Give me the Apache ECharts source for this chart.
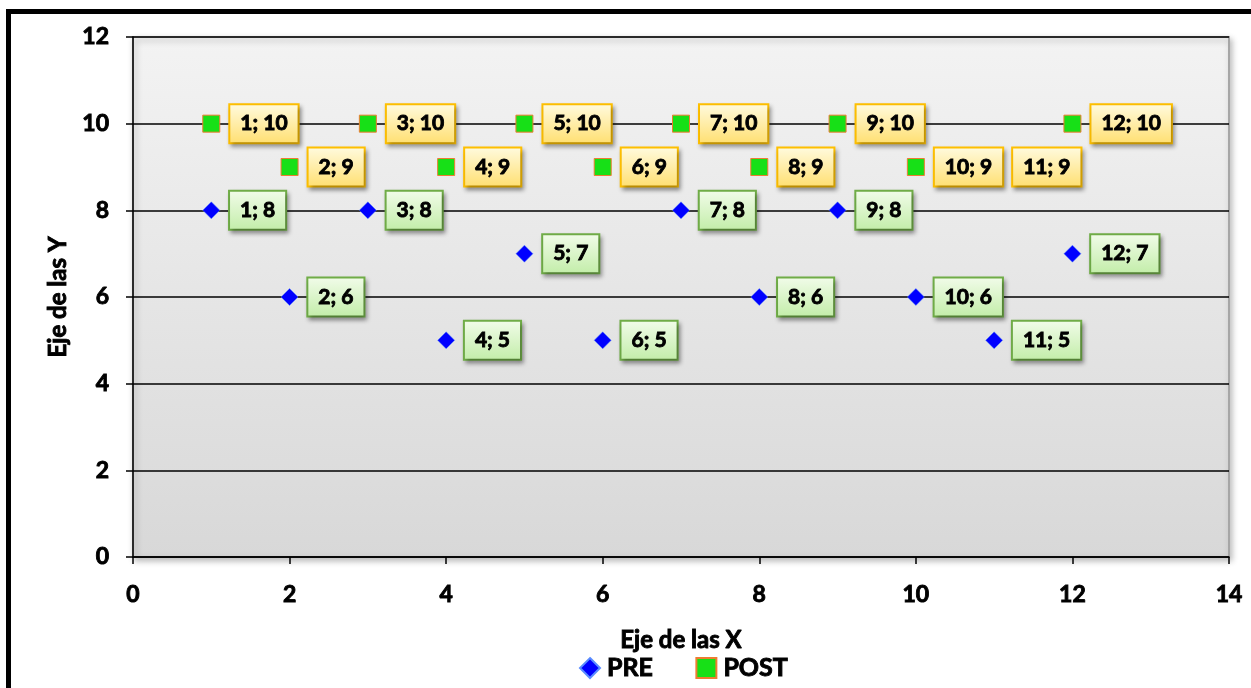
<!DOCTYPE html>
<html><head><meta charset="utf-8">
<script src="https://cdn.jsdelivr.net/npm/echarts@6/dist/echarts.min.js"></script>
<style>html,body{margin:0;padding:0;background:#fff}#c{width:1251px;height:688px}</style>
</head><body><div id="c"></div>
<script>
const preX = [1,2,3,4,5,6,7,8,9,10,11,12];
const preY = [8,6,8,5,7,5,8,6,8,6,5,7];
const postX = [1,2,3,4,5,6,7,8,9,10,11,12];
const postY = [10,9,10,9,10,9,10,9,10,9,9,10];
const xTicks = [0,2,4,6,8,10,12,14];
const yTicks = [0,2,4,6,8,10,12];

const FONT = 'Lato';
const BOLD = {fontFamily:FONT, fontWeight:'bold', color:'#000', textBorderColor:'#000', textBorderWidth:0.9};
const grad = (a,b)=>new echarts.graphic.LinearGradient(0,0,0,1,[{offset:0,color:a},{offset:1,color:b}]);
function lbl(bgTop,bgBot,border){
  return Object.assign({show:true, position:'right', distance:10, opacity:1,
    formatter:p=>p.value[0]+'; '+p.value[1], fontSize:21,
    backgroundColor:grad(bgTop,bgBot), borderColor:border, borderWidth:2,
    padding:[9,10,7,10], shadowColor:'rgba(0,0,0,0.3)', shadowBlur:4, shadowOffsetX:2, shadowOffsetY:3}, BOLD);
}
const chart = echarts.init(document.getElementById('c'), null, {renderer:'canvas'});
chart.setOption({
  animation:false,
  backgroundColor:'#fff',
  graphic:[
    {type:'rect', shape:{x:6,y:9,width:5,height:679}, style:{fill:'#000'}, z:100},
    {type:'rect', shape:{x:6,y:9,width:1245,height:5}, style:{fill:'#000'}, z:100}
  ],
  grid:{left:133,right:22,top:37,bottom:131,show:true,
    backgroundColor:grad('#f3f3f3','#d8d8d8'), borderColor:'#a6a6a6', borderWidth:2,
    shadowColor:'rgba(0,0,0,0.25)', shadowBlur:6, shadowOffsetX:2, shadowOffsetY:3},
  legend:{bottom:2, left:574, itemGap:42, itemWidth:20, itemHeight:20,
    textStyle:Object.assign({fontSize:25, padding:[0,0,0,2]}, BOLD),
    data:[{name:'PRE',icon:'diamond'},{name:'POST',icon:'rect'}]},
  xAxis:{type:'value', min:0, max:14, interval:2,
    name:'Eje de las X', nameLocation:'middle', nameGap:71,
    nameTextStyle:Object.assign({fontSize:24}, BOLD),
    axisLine:{show:true,onZero:false,lineStyle:{color:'#000',width:1.5}},
    axisTick:{show:true,inside:false,length:7,lineStyle:{color:'#000',width:1.5}},
    axisLabel:Object.assign({margin:26,fontSize:23,
      formatter:v=>xTicks.includes(v)?String(v):''}, BOLD),
    splitLine:{show:false}},
  yAxis:{type:'value', min:0, max:12, interval:2,
    name:'Eje de las Y', nameLocation:'middle', nameGap:56, nameRotate:90,
    nameTextStyle:Object.assign({fontSize:24}, BOLD),
    axisLine:{show:true,onZero:false,lineStyle:{color:'#000',width:1.5}},
    axisTick:{show:true,inside:false,length:7,lineStyle:{color:'#000',width:1.5}},
    axisLabel:Object.assign({margin:24,fontSize:23,
      formatter:v=>yTicks.includes(v)?String(v):''}, BOLD),
    splitLine:{show:true,lineStyle:{color:'#000',width:1.5}}},
  series:[
    {name:'PRE', type:'scatter', symbol:'diamond', symbolSize:17,
     itemStyle:{color:'#0000ff',borderColor:'#5a8cff',borderWidth:0.5,opacity:1},
     data:preX.map((x,i)=>[x,preY[i]]),
     label:lbl('#f2fcea','#c2eda8','#70ad47'), z:3},
    {name:'POST', type:'scatter', symbol:'rect', symbolSize:17,
     itemStyle:{color:'#17e017',borderColor:'#ed7d31',borderWidth:1,opacity:1},
     data:postX.map((x,i)=>[x,postY[i]]),
     label:lbl('#fffbe0','#ffdf70','#ffc000'), z:4}
  ]
});
</script></body></html>
